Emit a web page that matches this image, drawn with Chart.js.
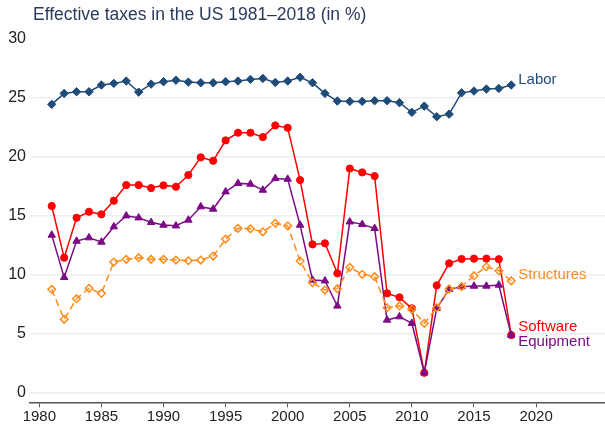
<!DOCTYPE html>
<html>
<head>
<meta charset="utf-8">
<script src="https://cdn.jsdelivr.net/npm/chart.js@4/dist/chart.umd.min.js"></script>
<style>
  body { margin: 0; background: #fff; }
  canvas { display: block; }
</style>
</head>
<body>
<canvas id="taxChart" width="605" height="425"></canvas>
<script>
const years = []
for (let y = 1981; y <= 2018; y++) years.push(y)

const labor = [24.45, 25.38, 25.52, 25.52, 26.09, 26.23, 26.43, 25.49, 26.17, 26.37, 26.5,
  26.34, 26.28, 26.28, 26.37, 26.43, 26.57, 26.65, 26.31, 26.43, 26.75,
  26.28, 25.38, 24.73, 24.7, 24.7, 24.76, 24.76, 24.59, 23.77, 24.3,
  23.4, 23.62, 25.43, 25.58, 25.75, 25.8, 26.09]
const software = [15.82, 11.43, 14.82, 15.33, 15.11, 16.27, 17.6, 17.6, 17.34, 17.57, 17.45,
  18.45, 19.95, 19.66, 21.39, 22.04, 22.04, 21.67, 22.66, 22.46, 18.02,
  12.56, 12.65, 10.1, 19.0, 18.67, 18.36, 8.4, 8.06, 7.13, 1.66,
  9.08, 10.95, 11.32, 11.35, 11.35, 11.3, 4.86]
const equipment = [13.35, 9.76, 12.84, 13.13, 12.76, 14.06, 14.99, 14.82, 14.43, 14.2, 14.14,
  14.63, 15.76, 15.56, 17.03, 17.74, 17.68, 17.17, 18.16, 18.1, 14.2,
  9.53, 9.47, 7.33, 14.48, 14.26, 13.92, 6.14, 6.42, 5.86, 1.66,
  7.13, 8.74, 8.97, 9.02, 9.02, 9.11, 4.86]
const structures = [8.74, 6.2, 7.95, 8.83, 8.4, 11.06, 11.29, 11.43, 11.29, 11.29, 11.23,
  11.17, 11.23, 11.57, 13.01, 13.92, 13.88, 13.63, 14.35, 14.14, 11.15,
  9.3, 8.68, 8.8, 10.61, 10.02, 9.82, 7.18, 7.33, 7.05, 5.86,
  7.18, 8.78, 8.97, 9.9, 10.66, 10.32, 9.47]

const xTicks = [1980, 1985, 1990, 1995, 2000, 2005, 2010, 2015, 2020]
const yTicks = [0, 5, 10, 15, 20, 25, 30]

// series name, label height (in %) next to the last point
const seriesNames = ['Labor', 'Structures', 'Software', 'Equipment']
const labelLevels = [26.5, 9.95, 5.55, 4.3]

const FONT = '"Liberation Sans", Arial, sans-serif'
const COLORS = {
  Labor: '#1f4b78',
  Structures: '#ff8c1a',
  Software: '#ff0000',
  Equipment: '#7d0a86',
}

const pts = (arr) => arr.map((v, i) => ({ x: years[i], y: v }))

const endLabels = {
  id: 'endLabels',
  afterDatasetsDraw(chart) {
    const { ctx, scales } = chart
    ctx.save()
    ctx.font = '15px ' + FONT
    ctx.textBaseline = 'middle'
    ctx.textAlign = 'left'
    seriesNames.forEach((name, i) => {
      ctx.fillStyle = COLORS[name]
      const x = scales.x.getPixelForValue(years[years.length - 1]) + 7
      const y = scales.y.getPixelForValue(labelLevels[i])
      ctx.fillText(name, x, y)
    })
    // title
    ctx.fillStyle = '#2b3a5c'
    ctx.font = '17.5px ' + FONT
    ctx.fillText('Effective taxes in the US 1981\u20132018 (in %)', 33, 15)
    ctx.restore()
  },
}

const chart = new Chart(document.getElementById('taxChart'), {
  type: 'line',
  data: {
    datasets: [
      {
        label: 'Labor',
        data: pts(labor),
        borderColor: COLORS.Labor,
        backgroundColor: COLORS.Labor,
        borderWidth: 1.5,
        pointStyle: 'rectRot',
        pointRadius: 4.2,
        pointBorderWidth: 1,
        order: 0,
      },
      {
        label: 'Structures',
        data: pts(structures),
        borderColor: COLORS.Structures,
        backgroundColor: 'rgba(255,255,255,0)',
        borderWidth: 1.5,
        borderDash: [7, 4],
        pointStyle: 'rectRot',
        pointRadius: 3.8,
        pointBorderWidth: 1.5,
        order: 1,
      },
      {
        label: 'Equipment',
        data: pts(equipment),
        borderColor: COLORS.Equipment,
        backgroundColor: COLORS.Equipment,
        borderWidth: 1.5,
        pointStyle: 'triangle',
        pointRadius: 4.3,
        pointBorderWidth: 1,
        order: 2,
      },
      {
        label: 'Software',
        data: pts(software),
        borderColor: COLORS.Software,
        backgroundColor: COLORS.Software,
        borderWidth: 1.5,
        pointStyle: 'circle',
        pointRadius: 3.6,
        pointBorderWidth: 1,
        order: 3,
      },
    ],
  },
  options: {
    responsive: false,
    animation: false,
    layout: { autoPadding: false, padding: { top: 39, left: 0, right: 0, bottom: 0 } },
    plugins: {
      legend: { display: false },
      tooltip: { enabled: false },
    },
    scales: {
      x: {
        type: 'linear',
        min: 1979.25,
        max: 2025.55,
        afterBuildTicks: (scale) => { scale.ticks = xTicks.map((v) => ({ value: v })) },
        afterFit: (scale) => { scale.height = 22.7 },
        grid: {
          drawOnChartArea: false,
          drawTicks: true,
          tickLength: 5,
          color: '#555',
          lineWidth: 1,
        },
        border: { display: true, color: '#555', width: 1.5 },
        ticks: {
          color: '#222',
          padding: 1,
          maxRotation: 0,
          font: { family: FONT, size: 15 },
          callback: (v) => String(v),
        },
      },
      y: {
        min: -0.85,
        max: 30,
        afterBuildTicks: (scale) => { scale.ticks = yTicks.map((v) => ({ value: v })) },
        afterFit: (scale) => { scale.width = 30 },
        grid: {
          drawTicks: false,
          lineWidth: 1.5,
          color: (c) => (c.tick && c.tick.value === 30 ? 'rgba(0,0,0,0)' : '#eaeff3'),
        },
        border: { display: false },
        ticks: {
          color: '#222',
          padding: 4,
          font: { family: FONT, size: 16 },
        },
      },
    },
  },
  plugins: [endLabels],
})
</script>
</body>
</html>
